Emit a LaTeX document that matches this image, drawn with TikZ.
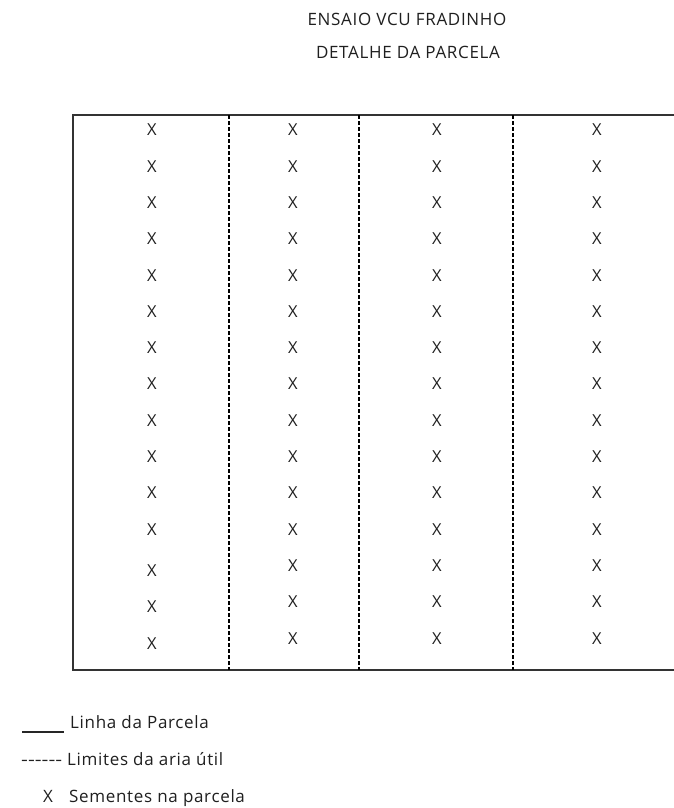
\documentclass[tikz,border=0pt]{standalone}
\usepackage{fontspec}
\usepackage{graphicx}
\setmainfont{Open Sans}[LetterSpace=4]
\begin{document}
\begin{tikzpicture}[x=1pt,y=-1pt,
  txt/.style={inner sep=0pt,text=black!88,font=\fontsize{17}{20}\selectfont},
  seed/.style={inner sep=0pt,text=black!88,font=\fontsize{16.5}{19}\selectfont},
  plotline/.style={line width=2pt,draw=black!80},
  usefulline/.style={line width=1.4pt,draw=black,dash pattern=on 4pt off 2pt}]
\useasboundingbox (0,0) rectangle (673,808);
% titles
\node[txt,anchor=base] (t1) at (407,26) {ENSAIO VCU FRADINHO};
\node[txt,anchor=base] (t2) at (408,59) {DETALHE DA PARCELA};
% plot outline
\coordinate (tr) at (680,115);
\coordinate (tl) at (73,115);
\coordinate (bl) at (73,670);
\coordinate (br) at (680,670);
\draw[plotline] (tr) -- (tl) -- (bl) -- (br);
% useful-area limits
\foreach \i/\xx in {1/229,2/359,3/513}{
  \coordinate (dt\i) at (\xx,115);
  \coordinate (db\i) at (\xx,670);
  \draw[usefulline] (dt\i) -- (db\i);
}
% seeds
\foreach \c/\xx in {1/152,2/293,3/437,4/597}{
  \foreach \r in {0,...,14}{
    \pgfmathsetmacro{\yy}{130+36.3*\r+((\c==1)&&(\r>11))*5}
    \node[seed] (x-\c-\r) at (\xx,\yy) {X};
  }
}
% legend
\coordinate (l1a) at (22,732);
\coordinate (l1b) at (64,732);
\draw[line width=1.2pt,draw=black!85] (l1a) -- (l1b);
\node[txt,anchor=base west] (leg1) at (70,728) {Linha da Parcela};
\node[txt,anchor=base west] (leg2d) at (21,765) {\scalebox{1.25}[1]{-\kern0pt-\kern0pt-\kern0pt-\kern0pt-\kern0pt-}};
\node[txt,anchor=base west] (leg2) at (67,765) {Limites da aria útil};
\node[txt,anchor=base west] (leg3x) at (43,802) {X};
\node[txt,anchor=base west] (leg3) at (69,802) {Sementes na parcela};
\end{tikzpicture}
\end{document}
